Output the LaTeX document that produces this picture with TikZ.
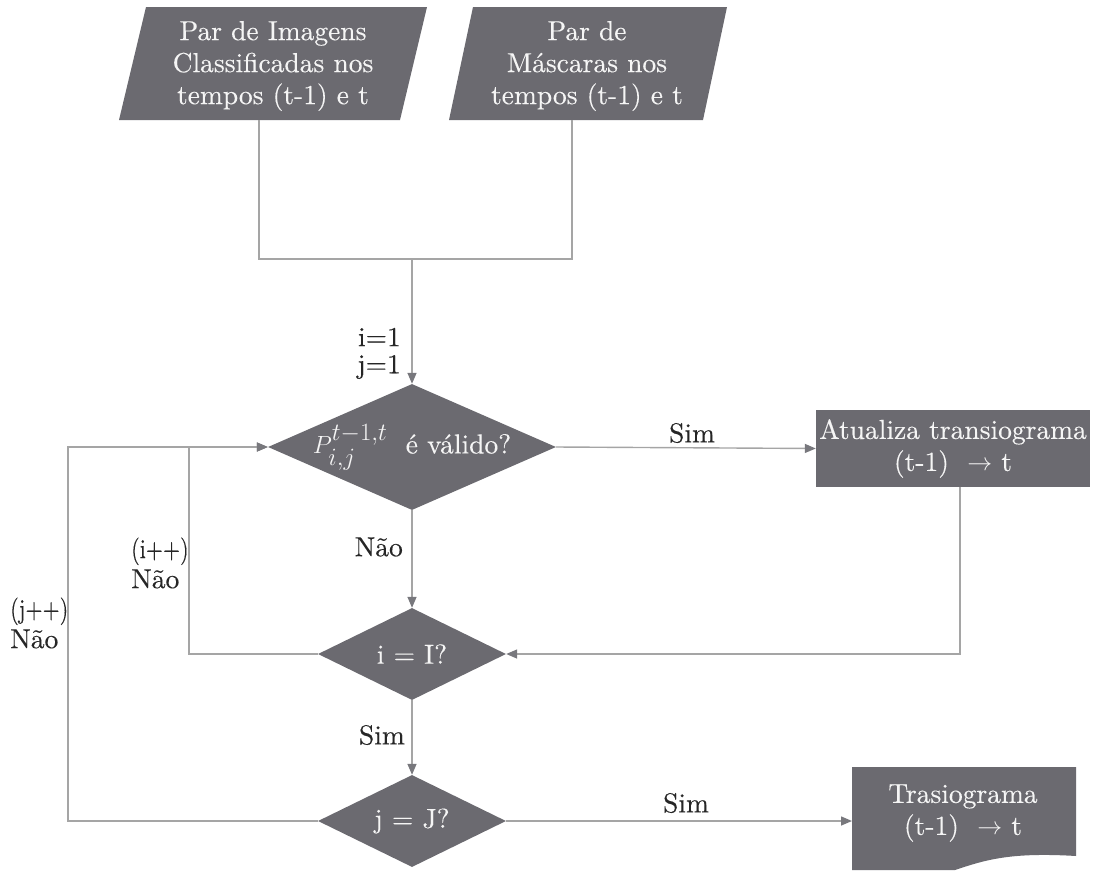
\documentclass[tikz,border=0pt]{standalone}
\usepackage{amsmath}
\usepackage{graphicx}
\usepackage{fontspec}
\setmainfont{lmroman10-regular.otf}[FakeBold=0.25]
\usetikzlibrary{shapes.geometric,arrows.meta}
\definecolor{boxfill}{RGB}{107,106,112}
\definecolor{linecol}{RGB}{165,165,165}
\definecolor{tipcol}{RGB}{120,120,125}
\definecolor{boxtext}{RGB}{245,245,245}
\tikzset{
  shapefill/.style={fill=boxfill,draw=none},
  dia/.style={diamond,shapefill,inner sep=0pt,aspect=1},
  boxtxt/.style={text=boxtext,align=center,font=\fontsize{27.5}{32}\selectfont},
  lbl/.style={text=black!85,font=\fontsize{27.5}{30}\selectfont,inner sep=0pt},
  conn/.style={draw=linecol,line width=1.4pt},
  arr/.style={conn,-{Triangle[length=11pt,width=9pt,fill=tipcol,color=tipcol]}}
}
\begin{document}
\begin{tikzpicture}[x=1pt,y=-1pt]
\useasboundingbox (0,0) rectangle (1094,870);
% input parallelograms
\fill[boxfill] (119,120) -- (400,120) -- (427,7) -- (146,7) -- cycle;
\node[boxtxt] (in1) at (273,66) {Par de Imagens\\Classificadas nos\\tempos (t-1) e t};
\fill[boxfill] (449,120) -- (703,120) -- (727,7) -- (473,7) -- cycle;
\node[boxtxt] (in2) at (587,66) {Par de\\M\'ascaras nos\\tempos (t-1) e t};
\coordinate (in1b) at (259,120);
\coordinate (in2b) at (572,120);
\coordinate (merge) at (412,259);
% decision P
\node[dia,minimum width=288pt,minimum height=126pt] (P) at (412,447) {};
\node[boxtxt] (Ptxt) at (412,447) {{\fontsize{33}{33}\selectfont$P_{i,j}^{t-1,t}$}\ \ \'e v\'alido?};
% update box
\node[shapefill,rectangle,minimum width=274pt,minimum height=77pt,inner sep=0pt] (A) at (953,448.5) {};
\node[boxtxt] (Atxt) at (953,448.5) {Atualiza transiograma\\(t-1) \ $\rightarrow$ t};
\coordinate (Ad) at (960,487);
% decision i = I
\node[dia,minimum width=188pt,minimum height=92pt] (I) at (412,654) {};
\node[boxtxt] (Itxt) at (412,654) {i = I?};
% decision j = J
\node[dia,minimum width=188pt,minimum height=92pt] (J) at (412,821) {};
\node[boxtxt] (Jtxt) at (412,821) {j = J?};
% document output
\fill[boxfill] (852,767) -- (1076,767) -- (1076,856) .. controls (1010,852) and (985,860) .. (955,870) -- (852,870) -- cycle;
\coordinate (Tw) at (852,821);
\node[boxtxt] (Ttxt) at (963,813) {Trasiograma\\(t-1) \ $\rightarrow$ t};
% loop corners
\coordinate (iL) at (189,654);
\coordinate (jL) at (68,821);
% connectors
\draw[conn] (in1b) |- (merge) -| (in2b);
\draw[arr] (merge) -- (P.north);
\draw[arr] (P.east) -- (A.west);
\draw[arr] (P.south) -- (I.north);
\draw[arr] (Ad) |- (I.east);
\draw[arr] (I.west) -- (iL) |- (P.west);
\draw[arr] (I.south) -- (J.north);
\draw[arr] (J.west) -- (jL) |- (P.west);
\draw[arr] (J.east) -- (Tw);
% labels
\node[lbl,anchor=east] (l1) at (401,337) {i=1};
\node[lbl,anchor=east] (l2) at (401,367) {j=1};
\node[lbl] (lsim1) at (692,433) {Sim};
\node[lbl,anchor=east] (lnao1) at (403,547) {N\~ao};
\node[lbl,anchor=west,align=left] (lip) at (131,563) {\scalebox{0.8}[1]{(i++)}\\N\~ao};
\node[lbl,anchor=west,align=left] (ljp) at (10,623) {\scalebox{0.8}[1]{(j++)}\\N\~ao};
\node[lbl,anchor=east] (lsim2) at (405,735) {Sim};
\node[lbl] (lsim3) at (686,803) {Sim};
\end{tikzpicture}
\end{document}
